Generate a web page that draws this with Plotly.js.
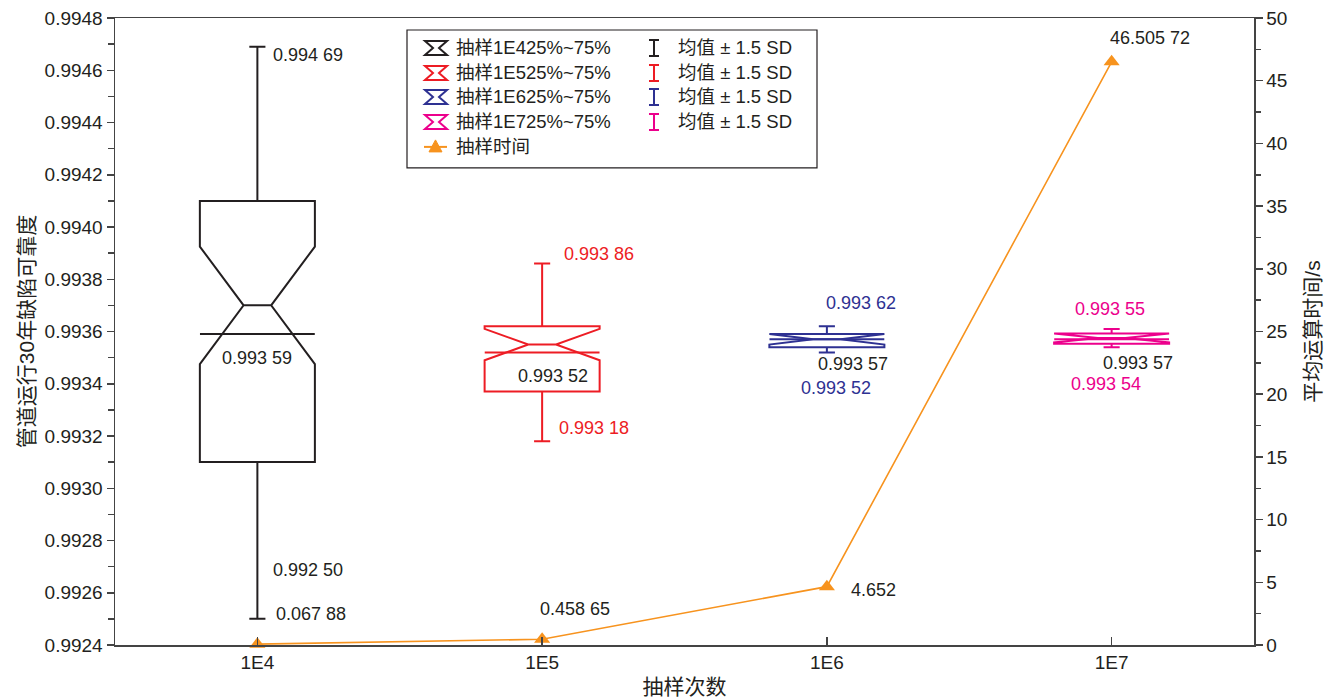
<!DOCTYPE html>
<html>
<head>
<meta charset="utf-8">
<script src="https://cdn.plot.ly/plotly-3.0.1.min.js"></script>
<style>
html,body{margin:0;padding:0;background:#fff;}
#chart{width:1329px;height:699px;}
</style>
</head>
<body>
<div id="chart"></div>
<script>
// ---- data ----
const categories = ['1E4', '1E5', '1E6', '1E7'];
const boxNames = ['抽样1E425%~75%', '抽样1E525%~75%', '抽样1E625%~75%', '抽样1E725%~75%'];
const q1Vals = [0.99310, 0.99337, 0.99354, 0.993553];
const medianVals = [0.99370, 0.99355, 0.99357, 0.993575];
const q3Vals = [0.99410, 0.99362, 0.99359, 0.993592];
const notchSpans = [0.000225, 0.00006, 0.00002, 0.000017];
const meanVals = [0.99359, 0.99352, 0.99357, 0.99357];
const upperSD = [0.99469, 0.99386, 0.99362, 0.99361];
const lowerSD = [0.99250, 0.99318, 0.99352, 0.99354];
const sampleTime = [0.06788, 0.45865, 4.652, 46.50572];
const sdLegendText = '均值 ± 1.5 SD';
const timeName = '抽样时间';

// value labels shown on the chart
const labelTexts = ['0.994 69', '0.993 59', '0.992 50', '0.067 88', '0.458 65', '4.652', '46.505 72',
  '0.993 86', '0.993 18', '0.993 52', '0.993 62', '0.993 57', '0.993 52', '0.993 55', '0.993 57', '0.993 54'];

// ---- styles ----
const boxColors = ['#231F20', '#ED1C24', '#2E3192', '#EC008C'];
const orange = '#F7931E';
const txt = '#231F20';
const axisCol = '#444444';
const FONT = 'Liberation Sans, Arial, Noto Sans CJK SC, sans-serif';
const FS = 18;

const traces = [];
categories.forEach((c, i) => {
  traces.push({
    type: 'box', name: boxNames[i], x: [c],
    q1: [q1Vals[i]], median: [medianVals[i]], q3: [q3Vals[i]],
    lowerfence: [lowerSD[i]], upperfence: [upperSD[i]],
    notchspan: [notchSpans[i]], notched: true, notchwidth: 0.38,
    whiskerwidth: 0.14, width: 0.404, boxpoints: false,
    line: {color: boxColors[i], width: 2}, fillcolor: 'rgba(0,0,0,0)',
    showlegend: false, hoverinfo: 'skip', xaxis: 'x', yaxis: 'y'
  });
});
// mean lines
traces.push({
  type: 'scatter', mode: 'markers', x: categories, y: meanVals,
  marker: {symbol: 'line-ew', size: 82, color: boxColors, line: {width: 2, color: boxColors}},
  showlegend: false, hoverinfo: 'skip', xaxis: 'x', yaxis: 'y'
});
// sampling time
traces.push({
  type: 'scatter', mode: 'lines+markers', name: timeName, x: categories, y: sampleTime,
  line: {color: orange, width: 1.6},
  marker: {symbol: 'triangle-up', size: 14, color: orange},
  cliponaxis: false, showlegend: false, hoverinfo: 'skip', xaxis: 'x', yaxis: 'y2'
});

// ---- annotations for value labels (anchored to data, shifted in px) ----
const labelSpecs = [
  // [textIndex, category index, y value, yaxis, xanchor, xshift, yshift, color]
  [0, 0, upperSD[0], 'y', 'left', 14, -8, txt],
  [1, 0, meanVals[0], 'y', 'center', 0, -24, txt],
  [2, 0, lowerSD[0], 'y', 'left', 14, 49, txt],
  [3, 0, sampleTime[0], 'y2', 'left', 17, 30, txt],
  [4, 1, sampleTime[1], 'y2', 'center', 33, 30, txt],
  [5, 2, sampleTime[2], 'y2', 'left', 22, -3, txt],
  [6, 3, sampleTime[3], 'y2', 'left', -4, 24, txt],
  [7, 1, upperSD[1], 'y', 'left', 20, 10, boxColors[1]],
  [8, 1, lowerSD[1], 'y', 'left', 15, 13, boxColors[1]],
  [9, 1, meanVals[1], 'y', 'center', 11, -24, txt],
  [10, 2, upperSD[2], 'y', 'center', 34, 23, boxColors[2]],
  [11, 2, meanVals[2], 'y', 'center', 26, -25, txt],
  [12, 2, lowerSD[2], 'y', 'center', 9, -36, boxColors[2]],
  [13, 3, upperSD[3], 'y', 'center', -2, 20, boxColors[3]],
  [14, 3, meanVals[3], 'y', 'center', 26, -24, txt],
  [15, 3, lowerSD[3], 'y', 'center', -6, -37, boxColors[3]]
];
const annotations = labelSpecs.map(s => ({
  text: labelTexts[s[0]], x: s[1], y: s[2], xref: 'x', yref: s[3],
  xanchor: s[4], yanchor: 'middle', xshift: s[5], yshift: s[6], showarrow: false,
  font: {family: FONT, size: FS, color: s[7]}
}));

// ---- custom legend (paper coordinates) ----
const L = 115, R = 1254, T = 18, B = 645.5;
const PX = p => (p - L) / (R - L);
const PY = p => (B - p) / (B - T);
const shapes = [];
shapes.push({type: 'rect', xref: 'paper', yref: 'paper', x0: PX(407), x1: PX(817), y0: PY(30), y1: PY(168),
  line: {color: txt, width: 1.2}, fillcolor: '#fff', layer: 'above'});
const rowsY = [48, 73, 97, 122, 147];
const pth = (pts, close) => pts.map((p, k) => (k ? 'L' : 'M') + PX(p[0]).toFixed(5) + ',' + PY(p[1]).toFixed(5)).join(' ') + (close ? ' Z' : '');
boxNames.forEach((n, i) => {
  const y = rowsY[i], x0 = 425, x1 = 447, xc = 436, g = 3;
  shapes.push({type: 'path', xref: 'paper', yref: 'paper', layer: 'above',
    path: pth([[x0, y - 7], [x1, y - 7], [xc + g, y], [x1, y + 7], [x0, y + 7], [xc - g, y]], true),
    line: {color: boxColors[i], width: 2}, fillcolor: 'rgba(0,0,0,0)'});
  annotations.push({text: n, xref: 'paper', yref: 'paper', x: PX(454), y: PY(y), xanchor: 'left', yanchor: 'middle',
    showarrow: false, font: {family: FONT, size: 18.5, color: txt}});
  // I-bar icon
  shapes.push({type: 'path', xref: 'paper', yref: 'paper', layer: 'above',
    path: pth([[654, y - 8], [654, y + 8]]) + ' ' + pth([[649, y - 8], [659, y - 8]]) + ' ' + pth([[649, y + 8], [659, y + 8]]),
    line: {color: boxColors[i], width: 2}});
  annotations.push({text: sdLegendText, xref: 'paper', yref: 'paper', x: PX(676), y: PY(y), xanchor: 'left', yanchor: 'middle',
    showarrow: false, font: {family: FONT, size: 18.5, color: txt}});
});
{
  const y = rowsY[4];
  shapes.push({type: 'line', xref: 'paper', yref: 'paper', layer: 'above', x0: PX(424), x1: PX(447), y0: PY(y), y1: PY(y),
    line: {color: orange, width: 2}});
  shapes.push({type: 'path', xref: 'paper', yref: 'paper', layer: 'above',
    path: pth([[429, y + 5], [442, y + 5], [435.5, y - 7]], true), line: {color: orange, width: 1}, fillcolor: orange});
  annotations.push({text: timeName, xref: 'paper', yref: 'paper', x: PX(454), y: PY(y), xanchor: 'left', yanchor: 'middle',
    showarrow: false, font: {family: FONT, size: 18.5, color: txt}});
}

const layout = {
  width: 1329, height: 699,
  margin: {l: 115, r: 75, t: 18, b: 53.5, pad: 0},
  paper_bgcolor: '#fff', plot_bgcolor: '#fff',
  font: {family: FONT, size: FS, color: txt},
  showlegend: false, hovermode: false,
  xaxis: {
    type: 'category', categoryorder: 'array', categoryarray: categories, range: [-0.5, 3.5],
    showline: true, mirror: true, linecolor: axisCol, linewidth: 1.5,
    ticks: 'inside', ticklen: 8, tickwidth: 1.5, tickcolor: axisCol,
    showgrid: false, zeroline: false,
    tickfont: {family: FONT, size: 19, color: txt},
    title: {text: '抽样次数', font: {family: FONT, size: 21, color: txt}, standoff: 7}
  },
  yaxis: {
    range: [0.9924, 0.9948], tick0: 0.9924, dtick: 0.0002, tickformat: '.4f',
    showline: true, linecolor: axisCol, linewidth: 1.5,
    ticks: 'outside', ticklen: 7, tickwidth: 1.5, tickcolor: axisCol,
    minor: {dtick: 0.0001, ticks: 'outside', ticklen: 6, tickwidth: 1.5, tickcolor: axisCol, showgrid: false},
    showgrid: false, zeroline: false,
    tickfont: {family: FONT, size: 19, color: txt},
    title: {text: '管道运行30年缺陷可靠度', font: {family: FONT, size: 21, color: txt}, standoff: 4}
  },
  yaxis2: {
    overlaying: 'y', side: 'right', range: [0, 50], tick0: 0, dtick: 5,
    showline: true, linecolor: axisCol, linewidth: 1.5,
    ticks: 'outside', ticklen: 7, tickwidth: 1.5, tickcolor: axisCol,
    minor: {dtick: 2.5, ticks: 'outside', ticklen: 5, tickwidth: 1.5, tickcolor: axisCol, showgrid: false},
    showgrid: false, zeroline: false,
    tickfont: {family: FONT, size: 19, color: txt},
    title: {text: '平均运算时间/s', font: {family: FONT, size: 21, color: txt}, standoff: 19}
  },
  annotations: annotations,
  shapes: shapes
};

Plotly.newPlot('chart', traces, layout, {displayModeBar: false, staticPlot: true});
</script>
</body>
</html>
